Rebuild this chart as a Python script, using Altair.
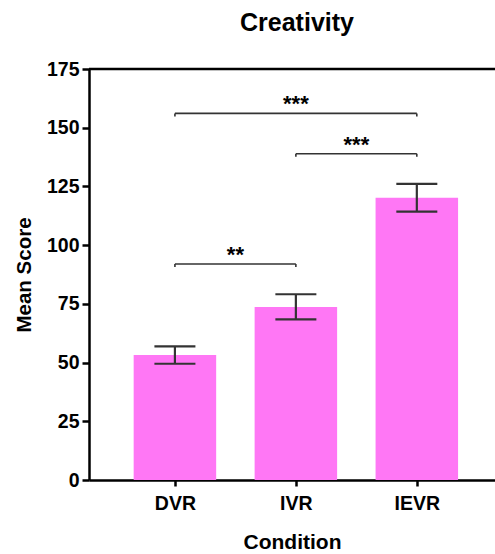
import altair as alt
import pandas as pd

conditions = ["DVR", "IVR", "IEVR"]
positions = [0, 1, 2]
means = [53.2, 73.7, 120.2]
err_low = [49.5, 68.4, 114.3]
err_high = [56.9, 79.1, 126.1]

bracket_left = [0, 1, 0]
bracket_right = [1, 2, 2]
bracket_y = [92.0, 138.9, 156.1]
bracket_label = ["**", "***", "***"]

y_ticks = [0, 25, 50, 75, 100, 125, 150, 175]

FONT = "Liberation Sans"
BAR_COLOR = "#FF77F5"
LINE_COLOR = "#333333"

bars_df = pd.DataFrame({"cond": conditions, "idx": positions, "mean": means,
                        "lo": err_low, "hi": err_high})
br_df = pd.DataFrame({"x1": bracket_left, "x2": bracket_right, "y": bracket_y,
                      "label": bracket_label})
br_df["xm"] = (br_df["x1"] + br_df["x2"]) / 2
br_df["ytick"] = br_df["y"] - 1.3
ends_df = pd.concat([
    br_df[["x1", "y", "ytick"]].rename(columns={"x1": "xe"}),
    br_df[["x2", "y", "ytick"]].rename(columns={"x2": "xe"}),
], ignore_index=True)

label_expr = " : ".join(
    [f"datum.value == {p} ? '{c}'" for p, c in zip(positions[:-1], conditions[:-1])]
) + f" : '{conditions[-1]}'"

x_scale = alt.Scale(domain=[-0.669, 2.605], nice=False, zero=False)
y_scale = alt.Scale(domain=[0, 175], nice=False)

x_axis = alt.Axis(values=positions, labelExpr=label_expr, title="Condition",
                  grid=False, tickSize=6, tickWidth=2.5, domainWidth=2.5,
                  domainColor="black", tickColor="black",
                  labelFont=FONT, labelFontSize=19.5, labelFontWeight="bold",
                  labelColor="black", labelPadding=8,
                  titleFont=FONT, titleFontSize=21, titleFontWeight="bold",
                  titleColor="black", titlePadding=19)
y_axis = alt.Axis(values=y_ticks, title="Mean Score", grid=False,
                  tickSize=7, tickWidth=2.5, domainWidth=2.5,
                  domainColor="black", tickColor="black",
                  labelFont=FONT, labelFontSize=19.5, labelFontWeight="bold",
                  labelColor="black", labelPadding=3,
                  titleFont=FONT, titleFontSize=20.5, titleFontWeight="bold",
                  titleColor="black", titlePadding=12)

base = alt.Chart(bars_df)

bars = base.mark_bar(color=BAR_COLOR, size=82.5).encode(
    x=alt.X("idx:Q", scale=x_scale, axis=x_axis),
    y=alt.Y("mean:Q", scale=y_scale, axis=y_axis),
)

err = base.mark_rule(color=LINE_COLOR, strokeWidth=2.2).encode(
    x="idx:Q", y="lo:Q", y2="hi:Q")
cap_lo = base.mark_tick(color=LINE_COLOR, orient="horizontal", size=41,
                        thickness=2.2, opacity=1).encode(x="idx:Q", y="lo:Q")
cap_hi = base.mark_tick(color=LINE_COLOR, orient="horizontal", size=41,
                        thickness=2.2, opacity=1).encode(x="idx:Q", y="hi:Q")

br_base = alt.Chart(br_df)
br_lines = br_base.mark_rule(color=LINE_COLOR, strokeWidth=1.6).encode(
    x="x1:Q", x2="x2:Q", y="y:Q")
br_ends = alt.Chart(ends_df).mark_rule(color=LINE_COLOR, strokeWidth=1.6).encode(
    x="xe:Q", y="y:Q", y2="ytick:Q")
br_text = br_base.mark_text(font=FONT, fontSize=22, fontWeight="bold",
                            color="black", baseline="alphabetic", dy=-2).encode(
    x="xm:Q", y="y:Q", text="label:N")

top_line = alt.Chart(alt.Data(values=[{}])).mark_rule(
    color="black", strokeWidth=2.5).encode(y=alt.Y(datum=175, scale=y_scale))

chart = alt.layer(
    bars, err, cap_lo, cap_hi, br_lines, br_ends, br_text, top_line
).properties(
    width=406, height=411,
    padding={"left": 89, "top": 69, "right": 0, "bottom": 74},
    autosize=alt.AutoSizeParams(type="none"),
    title=alt.TitleParams("Creativity", font=FONT, fontSize=25,
                          fontWeight="bold", color="black", offset=23,
                          anchor="middle", dx=5),
).configure_view(stroke=None).configure(background="white")

chart.save("out.html", embed_options={"renderer": "svg", "actions": False})
